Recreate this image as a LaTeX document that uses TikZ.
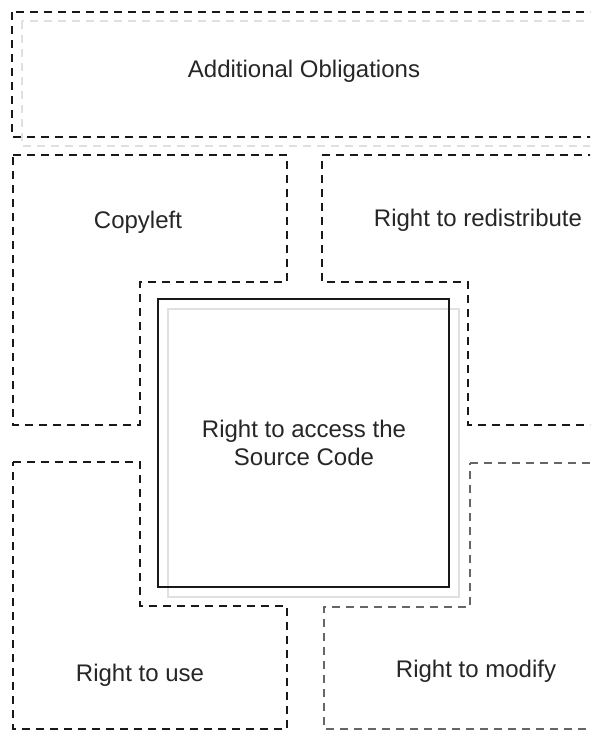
\documentclass[tikz,border=0pt]{standalone}
\usepackage{fontspec}
\setmainfont{Liberation Sans}
\begin{document}
\begin{tikzpicture}[x=1pt,y=-1pt,
  dashline/.style={line width=1.8pt,dash pattern=on 8pt off 6pt,draw=black!90},
  grayline/.style={line width=1.8pt,dash pattern=on 8pt off 6pt,draw=black!60},
  shadowdash/.style={line width=1.8pt,dash pattern=on 8pt off 6pt,draw=black!12},
  shadowsolid/.style={line width=2pt,draw=black!12},
  corebox/.style={line width=2.2pt,draw=black!90},
  lbl/.style={font=\fontsize{24}{28}\selectfont,text=black!85,inner sep=0pt,anchor=base},
  mlbl/.style={font=\fontsize{24}{28}\selectfont,text=black!85,inner sep=0pt,align=center}]
\useasboundingbox (0,0) rectangle (590,731);
\fill[white] (0,0) rectangle (590,731);
\clip (0,0) rectangle (590,731);
% top box with shadow
\draw[shadowdash] (22,21) rectangle (612,146);
\draw[dashline] (12,12) rectangle (600,137);
\node[lbl] (obl) at (304,77) {Additional Obligations};
% copyleft
\draw[dashline] (13,155) -- (287,155) -- (287,282) -- (140,282) -- (140,425) -- (13,425) -- cycle;
\node[lbl] (copy) at (138,228) {Copyleft};
% redistribute
\draw[dashline] (322,155) -- (640,155) -- (640,425) -- (468,425) -- (468,282) -- (322,282) -- cycle;
\node[lbl] (redis) at (478,226) {Right to redistribute};
% use
\draw[dashline] (13,462) -- (140,462) -- (140,606) -- (287,606) -- (287,729) -- (13,729) -- cycle;
\node[lbl] (use) at (140,681) {Right to use};
% modify
\draw[grayline] (470,463) -- (640,463) -- (640,729) -- (324,729) -- (324,607) -- (470,607) -- cycle;
\node[lbl] (mod) at (476,677) {Right to modify};
% center square
\draw[shadowsolid] (168,309) rectangle (459,597);
\draw[corebox] (158,299) rectangle (449,587);
\node[mlbl] (src) at (304,443) {Right to access the\\Source Code};
\end{tikzpicture}
\end{document}
